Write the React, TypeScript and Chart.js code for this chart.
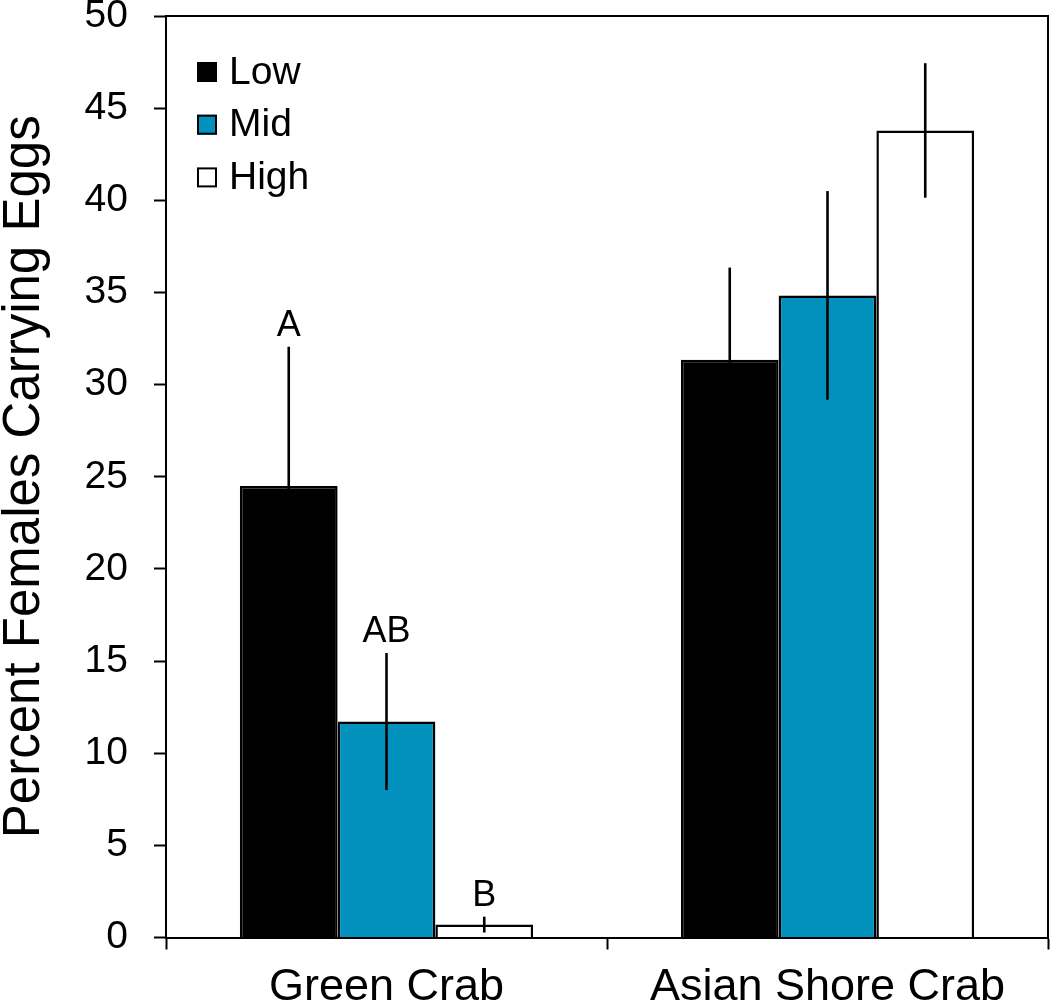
import React, { useEffect, useRef } from "react";
import { Chart, registerables } from "chart.js";

Chart.register(...registerables);

const categories = ["Green Crab", "Asian Shore Crab"];
const seriesNames = ["Low", "Mid", "High"];
const seriesColors = ["#000000", "#0291BC", "#FFFFFF"];
const lowValues = [24.5, 31.35];
const midValues = [11.72, 34.84];
const highValues = [0.7, 43.79];
const lowErrors = [7.55, 5.0];
const midErrors = [3.72, 5.66];
const highErrors = [0.43, 3.65];
const lowLetters = ["A", ""];
const midLetters = ["AB", ""];
const highLetters = ["B", ""];
const yMin = 0;
const yMax = 50;
const yStep = 5;
const yTitle = "Percent Females Carrying Eggs";

const FONT = "'Liberation Sans', Arial, Helvetica, sans-serif";

const seriesValues = [lowValues, midValues, highValues];
const seriesErrors = [lowErrors, midErrors, highErrors];
const seriesLetters = [lowLetters, midLetters, highLetters];

const decorPlugin = {
  id: "decor",
  afterDatasetsDraw(chart: any) {
    const ctx = chart.ctx;
    const y = chart.scales.y;
    ctx.save();
    chart.data.datasets.forEach((ds: any, di: number) => {
      const meta = chart.getDatasetMeta(di);
      meta.data.forEach((el: any, i: number) => {
        const v = ds.data[i];
        const e = seriesErrors[di][i];
        const yt = y.getPixelForValue(v + e);
        const yb = y.getPixelForValue(Math.max(v - e, 0));
        ctx.strokeStyle = "#000";
        ctx.lineWidth = 2.6;
        ctx.beginPath();
        ctx.moveTo(el.x, yt);
        ctx.lineTo(el.x, yb);
        ctx.stroke();
        const letter = seriesLetters[di][i];
        if (letter) {
          ctx.fillStyle = "#000";
          ctx.font = `36px ${FONT}`;
          ctx.textAlign = "center";
          ctx.textBaseline = "alphabetic";
          ctx.fillText(letter, el.x, yt - 11);
        }
      });
    });
    ctx.restore();
  },
  afterDraw(chart: any) {
    const ctx = chart.ctx;
    const a = chart.chartArea;
    ctx.save();
    ctx.strokeStyle = "#000";
    ctx.lineWidth = 2;
    ctx.beginPath();
    ctx.moveTo(a.left, a.top);
    ctx.lineTo(a.right, a.top);
    ctx.lineTo(a.right, a.bottom);
    ctx.stroke();
    ctx.font = `39px ${FONT}`;
    ctx.textAlign = "left";
    ctx.textBaseline = "middle";
    chart.data.datasets.forEach((ds: any, di: number) => {
      const cy = a.top + 56 + di * 52.7;
      const sx = a.left + 31;
      ctx.fillStyle = ds.backgroundColor;
      ctx.fillRect(sx, cy - 10, 20, 20);
      ctx.lineWidth = 2;
      ctx.strokeStyle = "#000";
      ctx.strokeRect(sx + 1, cy - 9, 18, 18);
      ctx.fillStyle = "#000";
      ctx.fillText(ds.label, a.left + 63, cy + 1);
    });
    ctx.restore();
  },
};

export default function App() {
  const ref = useRef<HTMLCanvasElement | null>(null);
  useEffect(() => {
    if (!ref.current) return;
    const chart = new Chart(ref.current, {
      type: "bar",
      data: {
        labels: categories,
        datasets: seriesNames.map((name, i) => ({
          label: name,
          data: seriesValues[i],
          backgroundColor: seriesColors[i],
          borderColor: "#000",
          borderWidth: 2.5,
          categoryPercentage: 0.665,
          barPercentage: 1.0,
        })),
      },
      options: {
        responsive: false,
        animation: false,
        layout: { padding: { top: 16, right: 2, left: 0, bottom: 0 } },
        plugins: {
          legend: { display: false },
          tooltip: { enabled: false },
        },
        scales: {
          x: {
            grid: {
              offset: true,
              drawOnChartArea: false,
              drawTicks: true,
              tickLength: 12,
              tickWidth: 2,
              tickColor: "#000",
              color: "#000",
            },
            border: { display: true, color: "#000", width: 2 },
            ticks: {
              color: "#000",
              font: { family: FONT, size: 45 },
              padding: 11,
              maxRotation: 0,
            },
            afterFit(scale: any) {
              scale.height = 69.5;
              scale.paddingLeft = 0;
              scale.paddingRight = 0;
            },
          },
          y: {
            min: yMin,
            max: yMax,
            grid: {
              drawOnChartArea: false,
              drawTicks: true,
              tickLength: 12,
              tickWidth: 2,
              tickColor: "#000",
              color: "#000",
            },
            border: { display: true, color: "#000", width: 2 },
            ticks: {
              stepSize: yStep,
              color: "#000",
              font: { family: FONT, size: 39 },
              padding: 26,
            },
            title: {
              display: true,
              text: yTitle,
              color: "#000",
              font: { family: FONT, size: 51, lineHeight: 0.96 },
              padding: 0,
            },
            afterFit(scale: any) {
              scale.width = 166;
              scale.paddingTop = 0;
              scale.paddingBottom = 0;
            },
          },
        },
      },
      plugins: [decorPlugin],
    } as any);
    return () => chart.destroy();
  }, []);
  return (
    <div style={{ position: "absolute", left: 0, top: 0, width: 1050, height: 1007, background: "#fff" }}>
      <canvas ref={ref} width={1050} height={1007} style={{ display: "block" }} />
    </div>
  );
}
